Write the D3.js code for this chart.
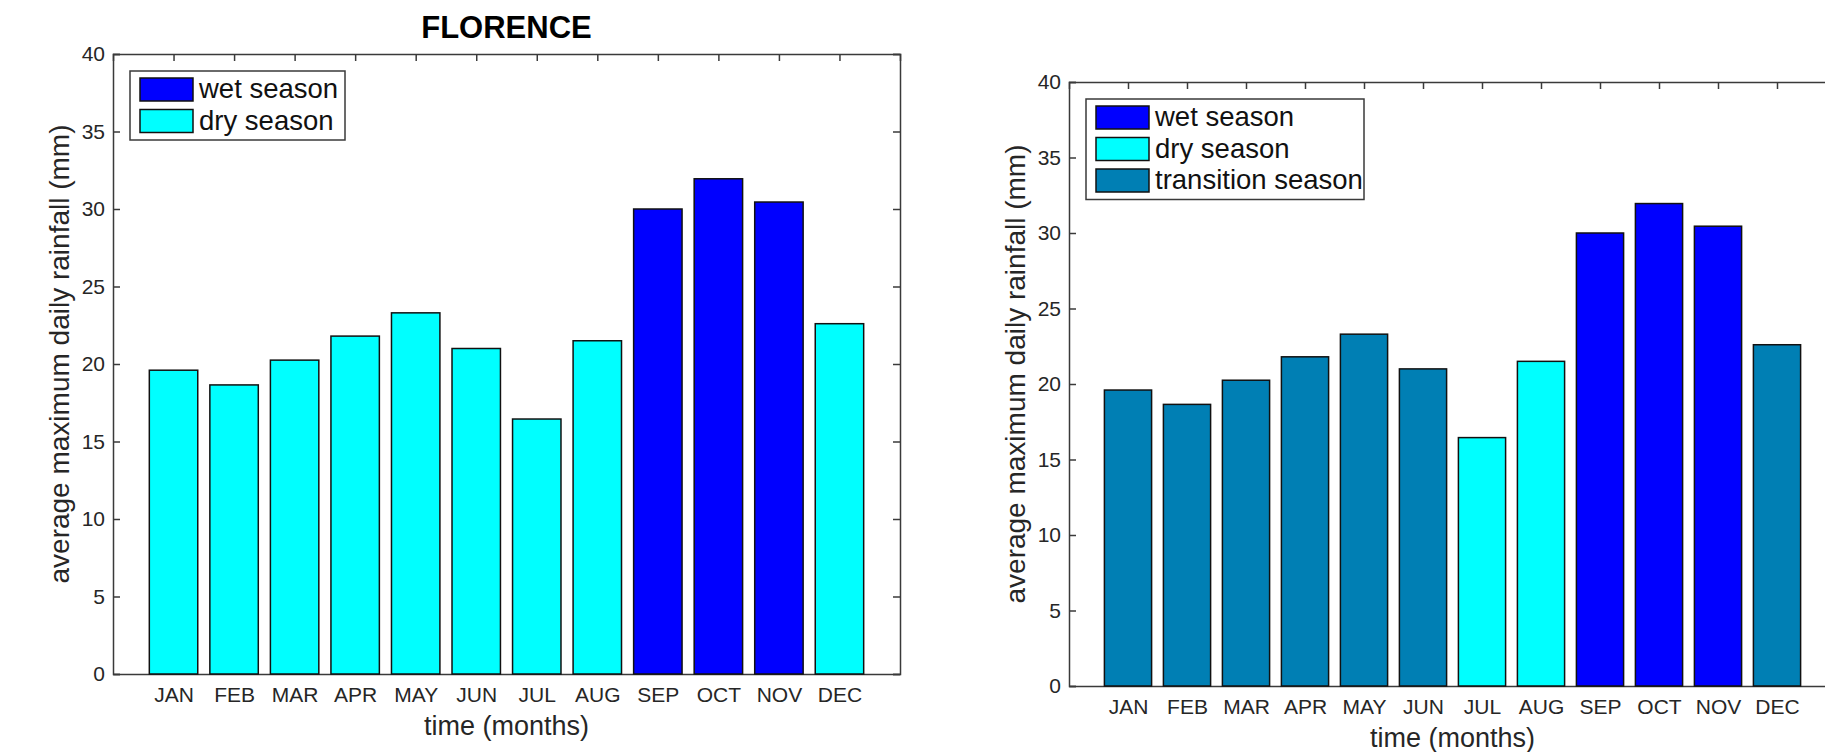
<!DOCTYPE html>
<html>
<head>
<meta charset="utf-8">
<script src="https://cdn.jsdelivr.net/npm/d3@7"></script>
<style>
  body { margin: 0; background: #fff; }
  svg { display: block; font-family: "Liberation Sans", Arial, Helvetica, sans-serif; }
</style>
</head>
<body>
<svg id="chart"></svg>
<script>
// values
var months = ["JAN", "FEB", "MAR", "APR", "MAY", "JUN", "JUL", "AUG", "SEP", "OCT", "NOV", "DEC"]
var rainfall = [19.6, 18.65, 20.25, 21.8, 23.3, 21.0, 16.45, 21.5, 30.0, 31.95, 30.45, 22.6]
var seasonsLeft = ["dry", "dry", "dry", "dry", "dry", "dry", "dry", "dry", "wet", "wet", "wet", "dry"]
var seasonsRight = ["transition", "transition", "transition", "transition", "transition", "transition",
  "dry", "dry", "wet", "wet", "wet", "transition"]
var yTicks = [0, 5, 10, 15, 20, 25, 30, 35, 40]
var legendLeft = ["wet", "dry"]
var legendRight = ["wet", "dry", "transition"]

var seasonColor = { wet: "#0000ff", dry: "#00ffff", transition: "#007fb4" }
var seasonName = { wet: "wet season", dry: "dry season", transition: "transition season" }

var W = 1825, H = 752
var axisColor = "#3a3a3a", textColor = "#262626"

var svg = d3.select("#chart").attr("width", W).attr("height", H)

// clip so the right panel is cut off at the page edge like the reference
svg.append("defs").append("clipPath").attr("id", "page")
  .append("rect").attr("x", 0).attr("y", 0).attr("width", W).attr("height", H)

function drawPanel(opts) {
  var g = svg.append("g").attr("clip-path", "url(#page)")
  var left = opts.left, top = opts.top, width = opts.width, height = opts.height

  var x = d3.scaleLinear().domain([0, 13]).range([left, left + width])
  var y = d3.scaleLinear().domain([0, 40]).range([top + height, top])
  var bw = (x(1) - x(0)) * 0.8

  // axes with inward ticks (matlab style)
  var tick = 7
  g.append("g")
    .attr("transform", "translate(" + left + ",0)")
    .call(d3.axisLeft(y).tickValues(yTicks).tickSize(-tick).tickPadding(8))
    .call(styleAxis)
  g.append("g")
    .attr("transform", "translate(" + (left + width) + ",0)")
    .call(d3.axisRight(y).tickValues(yTicks).tickSize(-tick).tickFormat(""))
    .call(styleAxis)
  g.append("g")
    .attr("transform", "translate(0," + top + ")")
    .call(d3.axisTop(x).tickValues(d3.range(1, 13)).tickSize(-tick).tickFormat(""))
    .call(styleAxis)
  g.append("g")
    .attr("transform", "translate(0," + (top + height) + ")")
    .call(d3.axisBottom(x).tickValues(d3.range(1, 13)).tickSize(0).tickPadding(13)
      .tickFormat(function(d) { return months[d - 1] }))
    .call(styleAxis)

  // bars
  g.selectAll("rect.bar")
    .data(rainfall)
    .enter()
    .append("rect")
    .attr("class", "bar")
    .attr("x", function(d, i) { return x(i + 1) - bw / 2 })
    .attr("y", function(d) { return y(d) })
    .attr("width", bw)
    .attr("height", function(d) { return y(0) - y(d) })
    .attr("fill", function(d, i) { return seasonColor[opts.seasons[i]] })
    .attr("stroke", "#111")
    .attr("stroke-width", 1.5)

  // axis labels
  g.append("text")
    .attr("x", left + width / 2)
    .attr("y", top + height + 61)
    .attr("text-anchor", "middle")
    .attr("fill", textColor)
    .style("font-size", "27px")
    .text("time (months)")

  g.append("text")
    .attr("transform", "translate(" + (left - 44) + "," + (top + height / 2 - 10) + ") rotate(-90)")
    .attr("text-anchor", "middle")
    .attr("fill", textColor)
    .style("font-size", "28px")
    .text("average maximum daily rainfall (mm)")

  if (opts.title) {
    g.append("text")
      .attr("x", left + width / 2)
      .attr("y", top - 16)
      .attr("text-anchor", "middle")
      .attr("fill", "#000")
      .style("font-size", "31px")
      .style("font-weight", "bold")
      .text(opts.title)
  }

  // legend
  var lg = g.append("g").attr("transform", "translate(" + (left + 17) + "," + (top + 17) + ")")
  var rowH = 31.5
  lg.append("rect")
    .attr("width", opts.legendWidth)
    .attr("height", opts.legend.length * rowH + 6)
    .attr("fill", "#fff")
    .attr("stroke", axisColor)
    .attr("stroke-width", 1.5)
  var rows = lg.selectAll("g.row")
    .data(opts.legend)
    .enter()
    .append("g")
    .attr("class", "row")
    .attr("transform", function(d, i) { return "translate(10," + (7 + i * rowH) + ")" })
  rows.append("rect")
    .attr("width", 53)
    .attr("height", 23)
    .attr("fill", function(d) { return seasonColor[d] })
    .attr("stroke", "#111")
    .attr("stroke-width", 1.5)
  rows.append("text")
    .attr("x", 59)
    .attr("y", 20)
    .attr("fill", "#111")
    .style("font-size", "27.5px")
    .text(function(d) { return seasonName[d] })
}

function styleAxis(sel) {
  sel.select(".domain").attr("stroke", axisColor).attr("stroke-width", 1.5)
  sel.selectAll(".tick line").attr("stroke", axisColor).attr("stroke-width", 1.5)
  sel.selectAll(".tick text")
    .attr("fill", textColor)
    .style("font-size", "21px")
}

drawPanel({ left: 113, top: 54, width: 787, height: 620, seasons: seasonsLeft,
  legend: legendLeft, legendWidth: 215, title: "FLORENCE" })
drawPanel({ left: 1069, top: 82, width: 767, height: 604, seasons: seasonsRight,
  legend: legendRight, legendWidth: 278 })
</script>
</body>
</html>
